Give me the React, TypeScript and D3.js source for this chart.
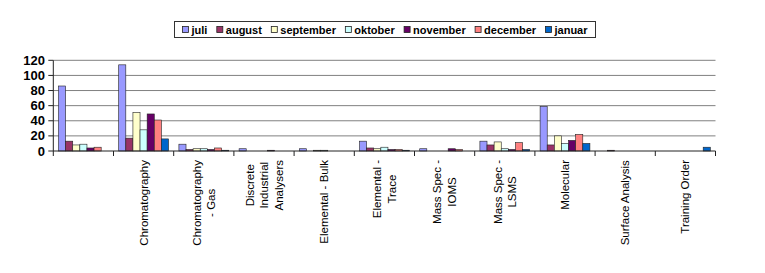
import React from "react";
import * as d3 from "d3";

const categories = ["", "Chromatography", "Chromatography - Gas", "Discrete Industrial Analysers", "Elemental - Bulk", "Elemental - Trace", "Mass Spec - IOMS", "Mass Spec - LSMS", "Molecular", "Surface Analysis", "Training Order"];
const categoryLabelLines = [[""], ["Chromatography"], ["Chromatography", "- Gas"], ["Discrete", "Industrial", "Analysers"], ["Elemental - Bulk"], ["Elemental -", "Trace"], ["Mass Spec -", "IOMS"], ["Mass Spec -", "LSMS"], ["Molecular"], ["Surface Analysis"], ["Training Order"]];
const seriesNames = ["juli", "august", "september", "oktober", "november", "december", "januar"];
const juli = [86, 114, 9, 3, 3, 13, 3, 13, 59, 0, 0];
const august = [13, 17, 2, 0, 0, 4, 0, 8, 8, 1, 0];
const september = [8, 51, 3, 0, 1, 3, 0, 12, 20, 0, 0];
const oktober = [9, 28, 3, 0, 1, 5, 0, 3, 10, 0, 0];
const november = [4, 49, 2, 1, 0, 2, 3, 2, 14, 0, 0];
const december = [5, 41, 4, 0, 0, 2, 2, 11, 22, 0, 0];
const januar = [0, 16, 1, 0, 0, 1, 0, 2, 10, 0, 5];
const seriesValues = [juli, august, september, oktober, november, december, januar];
const colors = ["#9999FF", "#993366", "#FFFFCC", "#CCFFFF", "#660066", "#FF8080", "#0066CC"];
const yTicks = [0, 20, 40, 60, 80, 100, 120];

const FONT = "'Liberation Sans', Arial, sans-serif";

function measure(text: string, font: string): number {
  const c = document.createElement("canvas");
  const ctx = c.getContext("2d")!;
  ctx.font = font;
  return ctx.measureText(text).width;
}

export default function App() {
  const W = 765, H = 273;
  const left = 53.3, right = 715.5, top = 60.3, bottom = 151;
  const x = d3.scaleBand<string>().domain(categories.map((_, i) => String(i))).range([left, right]).paddingInner(0).paddingOuter(0);
  const cw = x.bandwidth();
  const pad = 5.2;
  const xs = d3.scaleBand<string>().domain(seriesNames).range([pad, cw - pad]).padding(0);
  const y = d3.scaleLinear().domain([0, 120]).range([bottom, top]);

  const labelFont = `11.5px ${FONT}`;
  const lineH = 14.5;

  const legFontSize = 11;
  const legFont = `bold ${legFontSize}px ${FONT}`;
  const boxX = 174.5, boxW = 421;
  const sw = 6, swGap = 3;
  const widths = seriesNames.map(n => measure(n, legFont));
  const totalText = d3.sum(widths);
  const innerPad = 8;
  const gap = (boxW - 2 * innerPad - seriesNames.length * (sw + swGap) - totalText) / (seriesNames.length - 1);
  const legendX: number[] = [];
  let cur = boxX + innerPad;
  widths.forEach(w => { legendX.push(cur); cur += sw + swGap + w + gap; });

  return (
    <svg width={W} height={H} style={{ position: "absolute", left: 0, top: 0, background: "#fff" }} fontFamily={FONT}>
      {yTicks.filter(t => t > 0).map(t => (
        <line key={t} x1={left} x2={right} y1={y(t)} y2={y(t)} stroke="#808080" strokeWidth={1} />
      ))}
      {seriesValues.map((vals, si) => (
        <g key={si}>
          {vals.map((v, ci) => v > 0 ? (
            <rect key={ci}
              x={x(String(ci))! + xs(seriesNames[si])!}
              y={y(v)}
              width={xs.bandwidth()}
              height={y(0) - y(v)}
              fill={colors[si]} stroke="#222" strokeWidth={0.6} />
          ) : null)}
        </g>
      ))}
      <line x1={left} x2={left} y1={top} y2={bottom} stroke="#222" strokeWidth={1} />
      {yTicks.map(t => (
        <g key={t}>
          <line x1={left - 5} x2={left} y1={y(t)} y2={y(t)} stroke="#222" strokeWidth={1} />
          <text x={45} y={y(t)} dy="0.35em" textAnchor="end" fontSize={13} fontWeight="bold" fill="#000">{t}</text>
        </g>
      ))}
      <line x1={left} x2={right} y1={bottom} y2={bottom} stroke="#222" strokeWidth={1} />
      {categories.map((_, i) => (
        <line key={i} x1={x(String(i))!} x2={x(String(i))!} y1={bottom} y2={bottom + 5} stroke="#222" strokeWidth={1} />
      ))}
      <line x1={right} x2={right} y1={bottom} y2={bottom + 5} stroke="#222" strokeWidth={1} />
      {categoryLabelLines.map((lines, i) => {
        const cx = x(String(i))! + cw / 2;
        const blockW = Math.max(...lines.map(l => measure(l, labelFont)));
        return (
          <g key={i} transform={`translate(${cx},160) rotate(-90)`}>
            {lines.map((l, li) => (
              <text key={li} x={-blockW / 2} y={(li - (lines.length - 1) / 2) * lineH} dy="0.35em" textAnchor="middle" fontSize={11.5} fill="#000">{l}</text>
            ))}
          </g>
        );
      })}
      <rect x={boxX} y={21.5} width={boxW} height={16} fill="#fff" stroke="#333" strokeWidth={1} />
      {seriesNames.map((n, i) => (
        <g key={n}>
          <rect x={legendX[i]} y={26.5} width={sw} height={6} fill={colors[i]} stroke="#222" strokeWidth={0.8} />
          <text x={legendX[i] + sw + swGap} y={29.8} dy="0.35em" fontSize={legFontSize} fontWeight="bold" fill="#000">{n}</text>
        </g>
      ))}
    </svg>
  );
}
